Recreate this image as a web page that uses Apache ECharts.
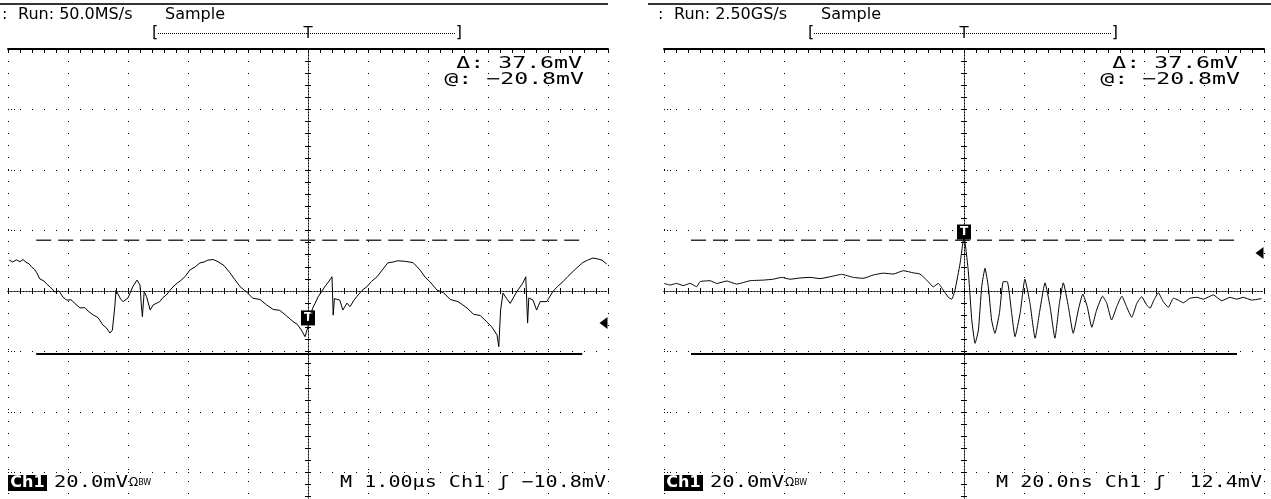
<!DOCTYPE html>
<html>
<head>
<meta charset="utf-8">
<script src="https://cdn.jsdelivr.net/npm/echarts@6/dist/echarts.min.js"></script>
<style>
  html, body { margin: 0; padding: 0; background: #fff; }
  #chart { width: 1271px; height: 499px; }
</style>
</head>
<body>
<div id="chart"></div>
<script>
// left capture, 1.00us/div (time in us, volts in mV from screen centre)
const leftTime = [-4.98, -4.92, -4.86, -4.80, -4.75, -4.70, -4.65, -4.61, -4.56, -4.52, -4.47, -4.40, -4.35, -4.30, -4.22, -4.15, -4.08, -4.02, -3.95, -3.88, -3.80, -3.72, -3.65, -3.58, -3.50, -3.42, -3.36, -3.30, -3.26, -3.22, -3.20, -3.17, -3.12, -3.08, -3.00, -2.92, -2.85, -2.80, -2.78, -2.76, -2.73, -2.69, -2.63, -2.58, -2.52, -2.47, -2.42, -2.36, -2.30, -2.25, -2.18, -2.11, -2.04, -1.97, -1.88, -1.80, -1.73, -1.67, -1.58, -1.50, -1.40, -1.30, -1.22, -1.13, -1.03, -0.92, -0.80, -0.69, -0.58, -0.47, -0.36, -0.25, -0.18, -0.11, -0.05, 0.00, 0.04, 0.08, 0.12, 0.17, 0.20, 0.28, 0.34, 0.40, 0.42, 0.44, 0.47, 0.53, 0.58, 0.65, 0.70, 0.76, 0.81, 0.90, 0.98, 1.06, 1.15, 1.24, 1.33, 1.42, 1.50, 1.62, 1.75, 1.87, 1.95, 2.03, 2.15, 2.26, 2.37, 2.50, 2.65, 2.76, 2.87, 2.97, 3.06, 3.15, 3.18, 3.21, 3.25, 3.31, 3.37, 3.48, 3.58, 3.63, 3.66, 3.68, 3.75, 3.81, 3.87, 3.98, 4.08, 4.16, 4.25, 4.33, 4.42, 4.50, 4.58, 4.66, 4.75, 4.83, 4.90, 4.98];
const leftVolt = [10.2, 9.6, 10.3, 9.7, 10.4, 9.5, 9.0, 8.0, 7.2, 6.0, 4.0, 3.3, 2.2, 1.4, -0.3, 0.0, -2.1, -3.0, -2.9, -4.2, -5.6, -5.5, -6.9, -7.9, -8.8, -11.2, -12.2, -13.9, -12.9, -5.2, 0.3, -0.2, -2.8, -3.5, -2.3, 1.4, 3.6, 2.0, -4.0, -8.5, -0.2, -1.9, -6.3, -4.6, -4.0, -3.5, -2.2, -1.3, 0.2, 1.4, 2.6, 3.6, 5.0, 6.9, 8.0, 9.3, 9.6, 10.2, 10.4, 9.7, 8.4, 6.0, 3.8, 1.4, -0.2, -2.4, -2.8, -4.6, -6.1, -6.4, -8.2, -10.1, -11.0, -12.9, -15.1, -11.8, -8.0, -5.6, -4.0, -1.9, -1.3, 1.4, 3.0, 4.7, -8.0, -2.5, -2.3, -3.0, -6.3, -4.0, -5.2, -3.2, -1.9, 0.2, 1.4, 3.2, 4.7, 7.0, 9.3, 9.6, 10.0, 9.8, 9.4, 6.9, 4.6, 3.1, 0.3, -0.6, -2.8, -3.5, -5.6, -7.7, -8.1, -10.0, -11.8, -14.5, -18.4, -6.3, -0.7, -2.5, -4.1, -0.2, 2.6, 4.7, -10.6, -2.3, -3.0, -6.3, -3.5, -3.5, -0.2, 1.5, 3.1, 4.8, 6.5, 8.0, 9.4, 10.2, 10.9, 10.6, 10.2, 8.9];

// right capture, 20.0ns/div (time in ns)
const rightTime = [-100, -98, -95.8, -93.6, -91.3, -89.1, -88, -84.7, -82.4, -79.1, -75.8, -71.3, -66.9, -63.6, -60.8, -58, -54.7, -51.3, -48, -44.7, -40.8, -36.9, -33.6, -30.2, -26.9, -23.6, -20.2, -16.9, -14.7, -12.4, -10.2, -8.6, -6.9, -5.2, -4.1, -3, -1.3, 0, 1.4, 2.6, 3.7, 4.8, 5.9, 7.0, 8.1, 9.2, 10.3, 11.8, 13.1, 14.4, 15.9, 17.0, 18.7, 20.3, 22.0, 23.7, 25.3, 27.0, 28.7, 30.3, 31.8, 33.1, 34.8, 36.4, 38.1, 39.6, 41.1, 42.6, 44.2, 46.2, 47.6, 49.2, 50.9, 52.6, 54.2, 55.9, 57.6, 59.2, 60.9, 62.0, 63.3, 64.8, 66.4, 68.1, 69.8, 71.4, 73.1, 75.3, 77.6, 79.8, 83.1, 85.9, 88.7, 90.9, 93.1, 95.9, 99.2];
const rightVolt = [2.5, 2.0, 2.5, 1.8, 2.5, 1.4, 3.1, 3.4, 2.5, 3.3, 2.3, 3.4, 3.6, 3.9, 4.5, 3.9, 4.3, 4.5, 4.1, 4.7, 5.5, 4.5, 4.2, 5.3, 5.9, 5.6, 6.7, 6.0, 5.6, 3.6, 1.4, 2.5, 0.3, -2.1, -2.7, 0.3, 9.2, 17.9, 6.9, -9.6, -17.3, -12.9, 1.4, 7.5, 1.4, -9.6, -14.0, -7.4, 3.1, 3.1, -7.4, -15.1, -7.4, 3.9, -4.1, -15.6, -6.3, 2.7, -5.2, -15.6, -4.1, 2.7, -5.2, -14.0, -6.3, -1.0, -5.2, -12.0, -6.3, -1.7, -4.1, -9.6, -5.2, -1.7, -5.2, -8.7, -4.1, -1.9, -4.6, -5.7, -3.0, -0.6, -3.5, -5.4, -2.4, -3.0, -3.9, -2.4, -2.1, -2.7, -1.3, -3.2, -2.1, -2.7, -2.1, -3.0, -2.5];

const cursorLevels = [16.8, -20.8];      // dashed, solid (mV)
const cursorSpans = [[-4.53, 4.57], [-91, 91]];
const trigLevels = [-8.9, 19.5];
const groundLevels = [-10.6, 12.6];
const xRanges = [[-5, 5, 1], [-100, 100, 20]];
const yRange = [-80, 80, 20];

const panelLeft = [8, 664];
const runText = ['Run: 50.0MS/s', 'Run: 2.50GS/s'];
const timeText = ['M 1.00\u00b5s Ch1 \u0283 \u221210.8mV', 'M 20.0ns Ch1 \u0283  12.4mV'];

const chart = echarts.init(document.getElementById('chart'));
const font = 'DejaVu Sans';
const mono = 'DejaVu Sans Mono';
const dots = { color: '#000', width: 1, type: [1, 11] };

let grid = [], xAxis = [], yAxis = [], series = [], graphic = [];

for (let p = 0; p < 2; p++) {
  const xr = xRanges[p];
  const dx = panelLeft[p] - 8;
  grid.push({ left: panelLeft[p], top: 49, width: 600, height: 484, outerBoundsMode: 'none' });

  // top border + vertical grid
  xAxis.push({
    gridIndex: p, type: 'value', min: xr[0], max: xr[1], interval: xr[2], position: 'top',
    axisLine: { onZero: false, lineStyle: { color: '#000', width: 2 } },
    axisTick: { inside: true, length: 4, lineStyle: { color: '#000' } },
    minorTick: { show: true, splitNumber: 5, length: 4, lineStyle: { color: '#000' } },
    axisLabel: { show: false },
    splitLine: { show: true, lineStyle: dots }
  });
  // horizontal centre line, ticks both sides
  for (let k = 0; k < 2; k++) {
    xAxis.push({
      gridIndex: p, type: 'value', min: xr[0], max: xr[1], interval: xr[2], position: 'bottom',
      axisLine: { onZero: true, lineStyle: { color: '#000', width: 1, type: [1, 2] } },
      axisTick: { inside: k == 0, length: 3, lineStyle: { color: '#000' } },
      minorTick: { show: true, splitNumber: 5, length: 3, lineStyle: { color: '#000' } },
      axisLabel: { show: false },
      splitLine: { show: false }
    });
  }
  yAxis.push({
    gridIndex: p, type: 'value', min: yRange[0], max: yRange[1], interval: yRange[2], position: 'left',
    axisLine: { show: false, onZero: false },
    axisTick: { show: true, inside: true, length: 7, lineStyle: { color: '#000', type: [1, 2] } },
    axisLabel: { show: false },
    splitLine: { show: true, lineStyle: dots }
  });
  // vertical centre line
  for (let k = 0; k < 2; k++) {
    yAxis.push({
      gridIndex: p, type: 'value', min: yRange[0], max: yRange[1], interval: yRange[2], position: 'left',
      axisLine: { onZero: true, lineStyle: { color: '#000', width: 1, type: [1, 2] } },
      axisTick: { inside: k == 0, length: 3, lineStyle: { color: '#000' } },
      minorTick: { show: true, splitNumber: 5, length: 3, lineStyle: { color: '#000' } },
      axisLabel: { show: false },
      splitLine: { show: false }
    });
  }

  const t = p == 0 ? leftTime : rightTime;
  const v = p == 0 ? leftVolt : rightVolt;
  const span = cursorSpans[p];
  series.push({
    type: 'line', xAxisIndex: 3 * p, yAxisIndex: 3 * p, z: 5,
    data: t.map((x, i) => [x, v[i]]),
    smooth: p == 1 ? 0.15 : false,
    symbol: 'none', lineStyle: { color: '#000', width: 1 },
    markPoint: {
      animation: false,
      data: [
        {
          coord: [0, trigLevels[p]], symbol: 'rect', symbolSize: [14, 15],
          itemStyle: { color: '#000' },
          label: { show: true, formatter: 'T', color: '#fff', fontFamily: font, fontSize: 12, fontWeight: 'bold' }
        },
        {
          coord: [xr[1] * 0.985, groundLevels[p]], symbol: 'triangle', symbolRotate: 90, symbolSize: [12, 8],
          itemStyle: { color: '#000' }, label: { show: false }
        }
      ]
    }
  });
  series.push({
    type: 'line', xAxisIndex: 3 * p, yAxisIndex: 3 * p, z: 3,
    data: [[span[0], cursorLevels[0]], [span[1], cursorLevels[0]]],
    symbol: 'none', lineStyle: { color: '#333', width: 1.5, type: [15, 7] }
  });
  series.push({
    type: 'line', xAxisIndex: 3 * p, yAxisIndex: 3 * p, z: 3,
    data: [[span[0], cursorLevels[1]], [span[1], cursorLevels[1]]],
    symbol: 'none', lineStyle: { color: '#000', width: 2 }
  });

  // readouts
  const txt = (x, y, s, size, align, fam, sx, color) => ({
    type: 'text', x: x, y: y, scaleX: sx || 1,
    style: { text: s, fill: color || '#000', font: size + 'px "' + (fam || font) + '"', align: align || 'left', verticalAlign: 'middle' }
  });
  graphic.push({ type: 'line', shape: { x1: dx + (p == 0 ? 0 : -8), y1: 4, x2: dx + 608 + (p == 0 ? 0 : 7), y2: 4 }, style: { stroke: '#333', lineWidth: 2 } });
  graphic.push(txt(dx + 2, 15, ':', 16));
  graphic.push(txt(dx + 18, 15, runText[p], 16));
  graphic.push(txt(dx + 165, 15, 'Sample', 16));
  graphic.push(txt(dx + 152, 33, '[', 16));
  graphic.push(txt(dx + 462, 33, ']', 16, 'right'));
  graphic.push({ type: 'line', shape: { x1: dx + 158, y1: 33.5, x2: dx + 456, y2: 33.5 }, style: { stroke: '#000', lineWidth: 1, lineDash: [1, 1] } });
  graphic.push(txt(dx + 308, 34, 'T', 15, 'center'));
  graphic.push(txt(dx + 582, 64, '\u0394: 37.6mV', 16, 'right', mono, 1.45));
  graphic.push(txt(dx + 584, 80, '@: \u221220.8mV', 16, 'right', mono, 1.45));
  graphic.push({ type: 'rect', shape: { x: dx + 8, y: 475, width: 39, height: 16 }, style: { fill: '#000' } });
  graphic.push(txt(dx + 27.5, 483, 'Ch1', 'bold 16', 'center', font, 1, '#fff'));
  graphic.push(txt(dx + 54, 483, '20.0mV', 16, 'left', mono, 1.28));
  graphic.push({
    type: 'text', x: dx + 129, y: 483,
    style: {
      text: '{b|\u03a9}{c|BW}', verticalAlign: 'middle',
      rich: {
        b: { fontFamily: font, fontSize: 12, fill: '#000' },
        c: { fontFamily: font, fontSize: 8, fill: '#000' }
      }
    }
  });
  graphic.push(txt(dx + 606, 483, timeText[p], 16, 'right', mono, 1.255));
}

chart.setOption({
  backgroundColor: '#fff',
  animation: false,
  grid: grid,
  xAxis: xAxis,
  yAxis: yAxis,
  series: series,
  graphic: graphic
});
</script>
</body>
</html>
